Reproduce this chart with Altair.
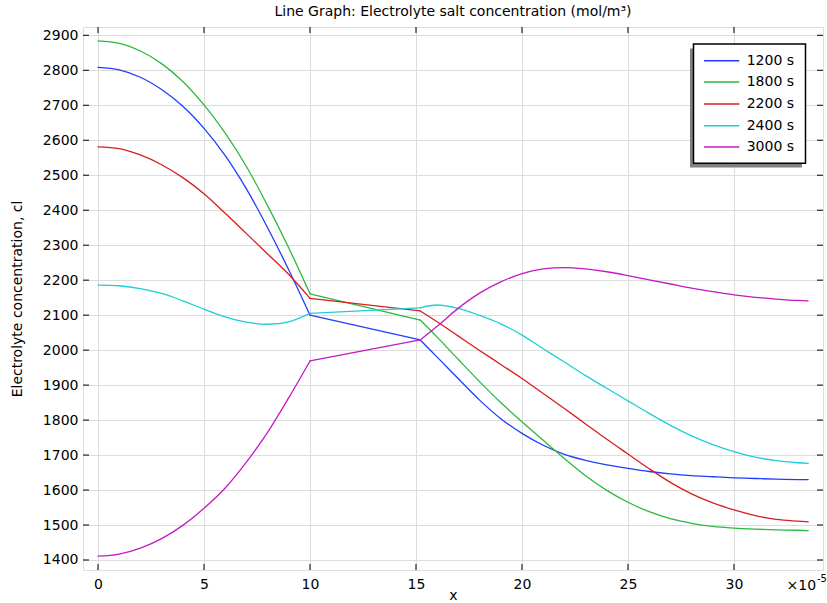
import altair as alt
import pandas as pd

SERIES = ["1200 s", "1800 s", "2200 s", "2400 s", "3000 s"]
COLORS = ["#1f3dff", "#2cb83f", "#d81e1e", "#1ccfd6", "#c41ac4"]

# x positions (units of 1e-5) of the three pieces of each profile
X_A = [0, 1, 2, 3, 4, 5, 6, 7, 8, 9, 10]
X_B = [10, 15.2]
X_C = [15.2, 16, 17, 18, 19, 20, 21, 22, 23, 24, 25, 26, 27, 28, 29, 30, 31, 32, 33, 33.5]

Y_A = {
    "1200 s": [2808, 2801, 2780, 2745, 2697, 2634, 2556, 2461, 2350, 2229, 2100],
    "1800 s": [2884, 2877, 2855, 2819, 2768, 2701, 2620, 2525, 2413, 2292, 2161],
    "2200 s": [2581, 2576, 2558, 2530, 2493, 2447, 2391, 2333, 2275, 2216, 2148],
    "2400 s": [2186, 2184, 2176, 2162, 2141, 2117, 2095, 2080, 2074, 2081, 2105],
    "3000 s": [1411, 1417, 1434, 1461, 1499, 1548, 1606, 1680, 1765, 1864, 1969],
}
Y_B = {
    "1200 s": [2100, 2029],
    "1800 s": [2161, 2086],
    "2200 s": [2148, 2112],
    "2400 s": [2105, 2121],
    "3000 s": [1969, 2029],
}
Y_C = {
    "1200 s": [2029, 1980, 1918, 1857, 1804, 1762, 1728, 1702, 1685, 1672, 1662, 1653, 1646, 1641, 1638, 1635, 1633, 1631, 1630, 1630],
    "1800 s": [2086, 2037, 1973, 1910, 1850, 1795, 1742, 1690, 1641, 1599, 1565, 1538, 1518, 1505, 1496, 1491, 1488, 1486, 1485, 1484],
    "2200 s": [2112, 2081, 2040, 1999, 1959, 1919, 1876, 1833, 1789, 1745, 1703, 1661, 1622, 1589, 1563, 1543, 1527, 1516, 1511, 1509],
    "2400 s": [2121, 2129, 2119, 2099, 2075, 2043, 2004, 1966, 1927, 1891, 1855, 1819, 1785, 1755, 1730, 1710, 1694, 1684, 1678, 1676],
    "3000 s": [2029, 2068, 2120, 2163, 2195, 2219, 2232, 2236, 2232, 2224, 2213, 2201, 2189, 2177, 2167, 2158, 2151, 2146, 2142, 2141],
}

X_TICKS = [0, 5, 10, 15, 20, 25, 30]
Y_TICKS = list(range(1400, 3000, 100))

FONT = "DejaVu Sans"
W, H = 740, 543

rows = []
for s in SERIES:
    for seg, xs, ys in (("a", X_A, Y_A[s]), ("b", X_B, Y_B[s]), ("c", X_C, Y_C[s])):
        for xv, yv in zip(xs, ys):
            rows.append({"series": s, "seg": seg, "x": xv, "c": yv})
df = pd.DataFrame(rows)

xscale = alt.Scale(domain=[-0.708, 34.2], nice=False, zero=False)
yscale = alt.Scale(domain=[1371.4, 2923.7], nice=False, zero=False)
cscale = alt.Scale(domain=SERIES, range=COLORS)

xaxis = alt.Axis(values=X_TICKS, title="x", grid=True, ticks=False, tickSize=0, domain=False,
                 labelPadding=7, titlePadding=-3, labelFontSize=14, titleFontSize=14,
                 labelFont=FONT, titleFont=FONT, titleFontWeight="normal", format="d",
                 labelColor="black", titleColor="black", gridColor="#dcdcdc", labelFlush=False)
yaxis = alt.Axis(values=Y_TICKS, title="Electrolyte concentration, cl", grid=True, ticks=False, tickSize=0,
                 domain=False, labelPadding=5, titlePadding=18, labelFontSize=14, titleFontSize=14,
                 labelFont=FONT, titleFont=FONT, titleFontWeight="normal", format="d",
                 labelColor="black", titleColor="black", gridColor="#dcdcdc", labelFlush=False)

X = alt.X("x:Q", scale=xscale, axis=xaxis)
Y = alt.Y("c:Q", scale=yscale, axis=yaxis)

lines = alt.Chart(df).mark_line(strokeWidth=1.3, interpolate="catmull-rom", strokeCap="round",
                                strokeJoin="round").encode(
    x=X, y=Y,
    color=alt.Color("series:N", scale=cscale, sort=SERIES, legend=None),
    detail="seg:N",
)

xt = pd.DataFrame({"x": X_TICKS})
yt = pd.DataFrame({"c": Y_TICKS})
bottom_ticks = alt.Chart(xt).mark_rule(color="black", strokeWidth=1).encode(
    x=X, y=alt.value(H), y2=alt.value(H - 6))
top_ticks = alt.Chart(xt).mark_rule(color="black", strokeWidth=1).encode(
    x=X, y=alt.value(0), y2=alt.value(6))
left_ticks = alt.Chart(yt).mark_rule(color="black", strokeWidth=1).encode(
    y=Y, x=alt.value(0), x2=alt.value(6))
right_ticks = alt.Chart(yt).mark_rule(color="black", strokeWidth=1).encode(
    y=Y, x=alt.value(W), x2=alt.value(W - 6))

dummy = pd.DataFrame({"k": [0]})
exp_base = alt.Chart(dummy).mark_text(align="left", baseline="middle", fontSize=14, font=FONT,
                                      color="black").encode(
    x=alt.value(703.5), y=alt.value(559), text=alt.value("×10"))
exp_sup = alt.Chart(dummy).mark_text(align="left", baseline="middle", fontSize=10, font=FONT,
                                     color="black").encode(
    x=alt.value(734), y=alt.value(552), text=alt.value("-5"))

# legend (drawn as a boxed key with a drop shadow)
LEG_ROW_Y = [33.7, 55, 77, 98.7, 120]
leg = pd.DataFrame({"series": SERIES, "py": LEG_ROW_Y})
shadow = alt.Chart(dummy).mark_rect(color="#808080").encode(
    x=alt.value(607), x2=alt.value(719), y=alt.value(21.5), y2=alt.value(140.5))
box = alt.Chart(dummy).mark_rect(fill="white", stroke="black", strokeWidth=1.5).encode(
    x=alt.value(610.5), x2=alt.value(722.5), y=alt.value(17), y2=alt.value(136.3))
leg_lines = alt.Chart(leg).mark_rule(strokeWidth=1.5).encode(
    x=alt.value(621), x2=alt.value(656.3),
    y=alt.Y("py:Q", scale=None, axis=None),
    color=alt.Color("series:N", scale=cscale, legend=None))
leg_text = alt.Chart(leg).mark_text(align="left", baseline="middle", fontSize=14, font=FONT,
                                    color="black").encode(
    x=alt.value(663.7), y=alt.Y("py:Q", scale=None, axis=None), text="series:N")

chart = alt.layer(
    lines, bottom_ticks, top_ticks, left_ticks, right_ticks, exp_base, exp_sup,
    shadow, box, leg_lines, leg_text
).properties(
    width=W, height=H,
    title=alt.TitleParams("Line Graph: Electrolyte salt concentration (mol/m³)", fontSize=14,
                          font=FONT, fontWeight="normal", anchor="middle", offset=8, color="black"),
    autosize=alt.AutoSizeParams(type="none"),
    padding={"left": 83, "top": 27, "right": 4, "bottom": 33},
).configure_view(stroke="black", strokeWidth=1.2).configure(background="white")

chart.save("out.html", embed_options={"renderer": "svg", "actions": False})
